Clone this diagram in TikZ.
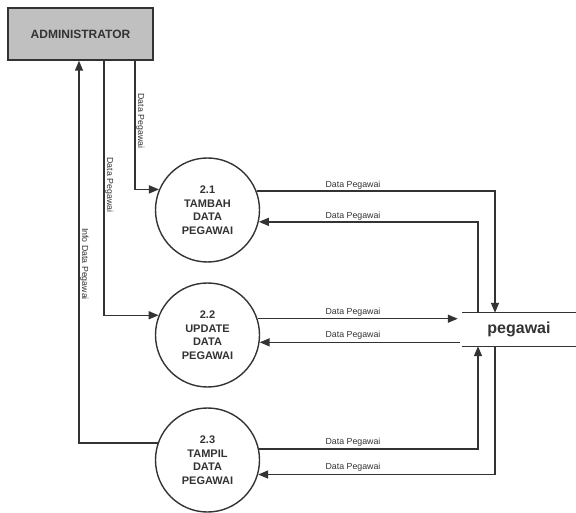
\documentclass[tikz,border=0pt]{standalone}
\usepackage{fontspec}
\setmainfont{Liberation Sans}
\usetikzlibrary{arrows.meta}
\definecolor{ink}{HTML}{333333}
\definecolor{boxfill}{HTML}{C0C0C0}
\begin{document}
\begin{tikzpicture}[x=1pt,y=-1pt,
  flow/.style={draw=ink,line width=1.4pt,-{Triangle[length=10pt,width=8pt]}},
  proc/.style={circle,draw=ink,line width=1.4pt,minimum size=104pt,inner sep=0pt,
     align=center,text=ink,font=\fontsize{11}{13.5}\selectfont\bfseries},
  lbl/.style={text=ink,font=\fontsize{8.8}{10}\selectfont,inner sep=0pt},
  hlbl/.style={lbl,anchor=south}]
\useasboundingbox (0,0) rectangle (576,513);
\node[draw=ink,line width=1.4pt,fill=boxfill,minimum width=145pt,minimum height=52pt,
  text=ink,font=\fontsize{12}{14}\selectfont\bfseries] (admin) at (80.5,34) {ADMINISTRATOR};
\node[proc] (p1) at (207.5,210) {2.1\\TAMBAH\\DATA\\PEGAWAI};
\node[proc] (p2) at (207.5,335) {2.2\\UPDATE\\DATA\\PEGAWAI};
\node[proc] (p3) at (207.5,460) {2.3\\TAMPIL\\DATA\\PEGAWAI};
\node[minimum width=114pt,minimum height=33pt,inner sep=0pt,text=ink,
  font=\fontsize{16}{18}\selectfont\bfseries] (store) at (519,329.5) {pegawai};
\draw[ink,line width=1.4pt] (store.north west) -- (store.north east);
\draw[ink,line width=1.4pt] (store.south west) -- (store.south east);
\coordinate (xa) at (478,0);
\coordinate (xb) at (495,0);
% admin flows
\draw[flow] ([xshift=54.5pt]admin.south) |- (p1.157);
\draw[flow] ([xshift=23.5pt]admin.south) |- (p2.158);
\draw[flow] (p3.161) -| ([xshift=-1.5pt]admin.south);
\node[lbl,rotate=-90] (l1) at (140.5,121) {Data Pegawai};
\node[lbl,rotate=-90] (l2) at (109.5,185) {Data Pegawai};
\node[lbl,rotate=-90] (l3) at (84.5,264) {Info Data Pegawai};
% 2.1
\draw[flow] (p1.21) -| (xb |- store.north);
\draw[flow] (xa |- store.north) |- (p1.-13);
\node[hlbl] (l4) at (353,190) {Data Pegawai};
\node[hlbl] (l5) at (353,221) {Data Pegawai};
% 2.2
\draw[flow] (p2.18) -- ([xshift=-4pt]store.west |- p2.18);
\draw[flow] ([xshift=-2pt]store.west |- p2.-8) -- (p2.-8);
\node[hlbl] (l6) at (353,317) {Data Pegawai};
\node[hlbl] (l7) at (353,340) {Data Pegawai};
% 2.3
\draw[flow] (p3.12) -| (xa |- store.south);
\draw[flow] (xb |- store.south) |- (p3.-16);
\node[hlbl] (l8) at (353,447) {Data Pegawai};
\node[hlbl] (l9) at (353,472) {Data Pegawai};
\end{tikzpicture}
\end{document}
